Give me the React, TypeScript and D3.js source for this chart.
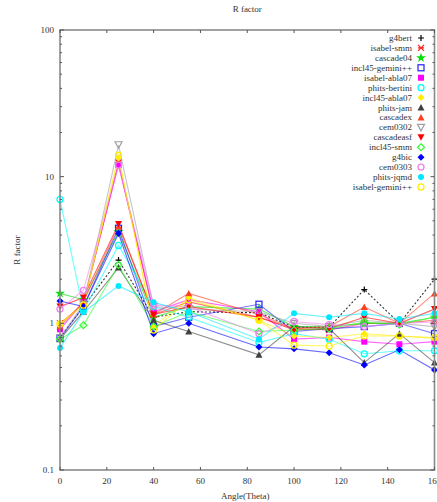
import React from "react";
import * as d3 from "d3";

const WIDTH = 437;
const HEIGHT = 502;
const MARGIN = { top: 30, right: 2.5, bottom: 32, left: 60 };

// angles where every model was evaluated
const angles = [0, 10, 25, 40, 55, 85, 100, 115, 130, 145, 160];
const xTicks = [0, 20, 40, 60, 80, 100, 120, 140, 160];
const yTicks = [0.1, 1, 10, 100];

// R factor per model
const g4bert = [0.8, 1.3, 2.7, 1.1, 1.2, 1.18, 0.94, 0.94, 1.7, 1.0, 2.0];
const isabelSmm = [1.0, 1.35, 12.5, 1.15, 1.4, 1.1, 0.92, 0.9, 1.0, 1.0, 1.05];
const cascade04 = [1.6, 1.45, 4.2, 1.1, 1.3, 1.25, 0.95, 0.95, 1.0, 1.0, 1.1];
const incl45Gemini = [0.79, 1.3, 4.45, 0.95, 1.1, 1.35, 0.88, 0.92, 0.95, 1.0, 0.85];
const isabelAbla07 = [0.91, 1.4, 12.0, 1.2, 1.45, 1.2, 0.78, 0.8, 0.75, 0.72, 0.75];
const phitsBertini = [7.0, 1.22, 3.4, 1.3, 1.1, 0.74, 0.85, 0.78, 0.62, 0.65, 0.65];
const incl45Abla07 = [1.0, 1.35, 13.5, 0.95, 1.5, 1.05, 0.82, 0.8, 0.85, 0.82, 0.79];
const phitsJam = [0.78, 1.2, 2.4, 1.05, 0.88, 0.61, 0.95, 0.92, 0.54, 0.85, 0.54];
const cascadex = [0.95, 1.4, 4.6, 1.15, 1.6, 1.15, 0.92, 0.95, 1.29, 1.0, 1.6];
const cem0302 = [0.8, 1.35, 16.5, 1.3, 1.25, 1.2, 1.0, 0.95, 1.05, 1.0, 0.95];
const cascadeasf = [1.3, 1.5, 4.75, 1.15, 1.3, 1.1, 0.9, 0.92, 1.1, 1.0, 1.25];
const incl45Smm = [0.78, 0.97, 2.5, 0.95, 1.2, 0.88, 0.9, 0.92, 1.02, 0.98, 1.1];
const g4bic = [1.42, 1.3, 4.1, 0.85, 1.0, 0.69, 0.67, 0.63, 0.52, 0.66, 0.48];
const cem0303 = [1.25, 1.68, 12.0, 1.33, 1.3, 0.85, 1.03, 0.98, 0.95, 1.0, 1.02];
const phitsJqmd = [0.68, 1.19, 1.8, 1.39, 1.2, 0.78, 1.17, 1.1, 1.17, 1.07, 1.17];
const isabelGemini = [0.99, 1.33, 14.0, 0.9, 1.45, 1.05, 0.71, 0.7, 0.82, 0.82, 0.8];

const series = [
  { name: "g4bert", values: g4bert, color: "#000000", marker: "plus", dash: "2,2" },
  { name: "isabel-smm", values: isabelSmm, color: "#ff2020", marker: "asterisk" },
  { name: "cascade04", values: cascade04, color: "#00e000", marker: "star" },
  { name: "incl45-gemini++", values: incl45Gemini, color: "#2020ff", marker: "squareOpen" },
  { name: "isabel-abla07", values: isabelAbla07, color: "#ff00ff", marker: "squareFill" },
  { name: "phits-bertini", values: phitsBertini, color: "#00ffff", marker: "circleOpen" },
  { name: "incl45-abla07", values: incl45Abla07, color: "#ffee00", marker: "diamondFill" },
  { name: "phits-jam", values: phitsJam, color: "#404040", marker: "triFill" },
  { name: "cascadex", values: cascadex, color: "#ff4020", marker: "triFill" },
  { name: "cem0302", values: cem0302, color: "#a0a0a0", marker: "triDownOpen" },
  { name: "cascadeasf", values: cascadeasf, color: "#ff0000", marker: "triDownFill" },
  { name: "incl45-smm", values: incl45Smm, color: "#30ff30", marker: "diamondOpen" },
  { name: "g4bic", values: g4bic, color: "#0000ff", marker: "diamondFill" },
  { name: "cem0303", values: cem0303, color: "#ee80ee", marker: "circleOpen" },
  { name: "phits-jqmd", values: phitsJqmd, color: "#00e8ff", marker: "circleFill" },
  { name: "isabel-gemini++", values: isabelGemini, color: "#ffee00", marker: "circleOpen" },
];

const FONT = "'Liberation Serif', 'DejaVu Serif', serif";

const Marker = ({ type, color, x, y }) => {
  const s = 3;
  switch (type) {
    case "plus":
      return (
        <path d={`M${x - s},${y}H${x + s}M${x},${y - s}V${y + s}`} stroke={color} strokeWidth={1.2} />
      );
    case "asterisk":
      return (
        <path
          d={`M${x - s},${y - s}L${x + s},${y + s}M${x - s},${y + s}L${x + s},${y - s}M${x - s},${y}H${x + s}`}
          stroke={color}
          strokeWidth={1.2}
        />
      );
    case "star":
      return (
        <path
          d={d3.symbol(d3.symbolStar, 30)()}
          transform={`translate(${x},${y})`}
          fill={color}
        />
      );
    case "squareOpen":
      return <rect x={x - s} y={y - s} width={2 * s} height={2 * s} fill="none" stroke={color} strokeWidth={1.2} />;
    case "squareFill":
      return <rect x={x - s} y={y - s} width={2 * s} height={2 * s} fill={color} />;
    case "circleOpen":
      return <circle cx={x} cy={y} r={s} fill="none" stroke={color} strokeWidth={1.3} />;
    case "circleFill":
      return <circle cx={x} cy={y} r={s} fill={color} />;
    case "diamondOpen":
      return (
        <path d={`M${x},${y - s - 0.5}L${x + s + 0.5},${y}L${x},${y + s + 0.5}L${x - s - 0.5},${y}Z`} fill="none" stroke={color} strokeWidth={1.2} />
      );
    case "diamondFill":
      return <path d={`M${x},${y - s - 0.5}L${x + s + 0.5},${y}L${x},${y + s + 0.5}L${x - s - 0.5},${y}Z`} fill={color} />;
    case "triFill":
      return <path d={`M${x},${y - s - 0.5}L${x + s + 0.5},${y + s}L${x - s - 0.5},${y + s}Z`} fill={color} />;
    case "triDownOpen":
      return (
        <path d={`M${x},${y + s + 0.5}L${x + s + 0.5},${y - s}L${x - s - 0.5},${y - s}Z`} fill="none" stroke={color} strokeWidth={1.2} />
      );
    case "triDownFill":
      return <path d={`M${x},${y + s + 0.5}L${x + s + 0.5},${y - s}L${x - s - 0.5},${y - s}Z`} fill={color} />;
    default:
      return null;
  }
};

export default function App() {
  const x0 = MARGIN.left;
  const x1 = WIDTH - MARGIN.right;
  const y0 = MARGIN.top;
  const y1 = HEIGHT - MARGIN.bottom;

  const xScale = d3.scaleLinear().domain([0, 160]).range([x0, x1]);
  const yScale = d3.scaleLog().domain([0.1, 100]).range([y1, y0]);

  const line = d3
    .line<number>()
    .x((_, i) => xScale(angles[i]))
    .y((d) => yScale(d));

  // minor log ticks 2..9 in each decade
  const minor: number[] = [];
  [0.1, 1, 10].forEach((dec) => {
    for (let k = 2; k < 10; k++) minor.push(dec * k);
  });

  const axisColor = "#8a8a8a";

  return (
    <svg width={WIDTH} height={HEIGHT} style={{ position: "absolute", left: 0, top: 0, background: "#fff" }}>
      <text x={(x0 + x1) / 2} y={12} textAnchor="middle" fontFamily={FONT} fontSize={9} fill="#333">
        R factor
      </text>

      {/* series lines */}
      {series.map((s) => (
        <path
          key={s.name}
          d={line(s.values) || ""}
          fill="none"
          stroke={s.color}
          strokeWidth={1.1}
          strokeOpacity={s.dash ? 0.8 : 0.6}
          strokeDasharray={s.dash}
        />
      ))}

      {/* markers */}
      {series.map((s) => (
        <g key={s.name + "-m"}>
          {s.values.map((v, i) => (
            <Marker key={i} type={s.marker} color={s.color} x={xScale(angles[i])} y={yScale(v)} />
          ))}
        </g>
      ))}

      {/* frame */}
      <rect x={x0} y={y0} width={x1 - x0} height={y1 - y0} fill="none" stroke={axisColor} strokeWidth={1.6} />

      {/* x ticks */}
      {xTicks.map((t) => (
        <g key={"x" + t}>
          <line x1={xScale(t)} x2={xScale(t)} y1={y1} y2={y1 - 3} stroke="#555" />
          <line x1={xScale(t)} x2={xScale(t)} y1={y0} y2={y0 + 3} stroke="#555" />
          <text x={xScale(t)} y={y1 + 14} textAnchor="middle" fontFamily={FONT} fontSize={9} fill="#333">
            {t}
          </text>
        </g>
      ))}

      {/* y ticks */}
      {yTicks.map((t) => (
        <g key={"y" + t}>
          <line x1={x0} x2={x0 + 4} y1={yScale(t)} y2={yScale(t)} stroke="#555" />
          <line x1={x1} x2={x1 - 4} y1={yScale(t)} y2={yScale(t)} stroke="#555" />
          <text x={x0 - 6} y={yScale(t) + 3} textAnchor="end" fontFamily={FONT} fontSize={9} fill="#333">
            {t}
          </text>
        </g>
      ))}
      {minor.map((t) => (
        <g key={"m" + t}>
          <line x1={x0} x2={x0 + 2} y1={yScale(t)} y2={yScale(t)} stroke="#555" />
          <line x1={x1} x2={x1 - 2} y1={yScale(t)} y2={yScale(t)} stroke="#555" />
        </g>
      ))}

      <text
        transform={`translate(20,${(y0 + y1) / 2}) rotate(-90)`}
        textAnchor="middle"
        fontFamily={FONT}
        fontSize={9}
        fill="#333"
      >
        R factor
      </text>
      <text x={(x0 + x1) / 2 - 2} y={499} textAnchor="middle" fontFamily={FONT} fontSize={9} fill="#333">
        Angle(Theta)
      </text>

      {/* legend */}
      {series.map((s, i) => {
        const ly = 38 + i * 9.93;
        return (
          <g key={s.name + "-l"}>
            <text x={412} y={ly + 3} textAnchor="end" fontFamily={FONT} fontSize={9} fill="#333">
              {s.name}
            </text>
            <Marker type={s.marker} color={s.color} x={421} y={ly} />
          </g>
        );
      })}
    </svg>
  );
}
